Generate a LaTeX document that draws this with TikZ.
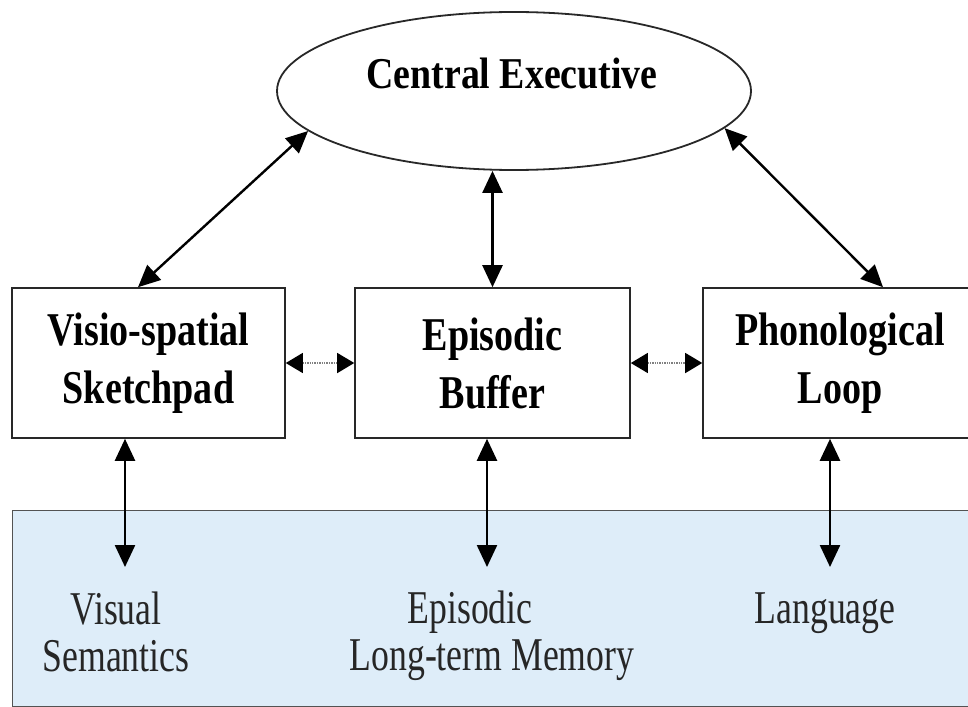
\documentclass[tikz,border=0pt]{standalone}
\usepackage{fontspec}
\setmainfont{Liberation Serif}
\newfontfamily\boxfont[FakeStretch=0.81]{Liberation Serif}
\newfontfamily\cefont[FakeStretch=0.86]{Liberation Serif}
\newfontfamily\memfont[FakeStretch=0.76]{Liberation Serif}
\usetikzlibrary{shapes.geometric,arrows.meta,positioning}
\definecolor{membg}{RGB}{222,237,249}
\definecolor{edge}{RGB}{40,40,40}
\tikzset{cmp/.style={draw=edge,fill=white,line width=1.6pt,rectangle,minimum
height=150pt,inner sep=0pt,align=center,font=\boxfont\bfseries\fontsize{47}{58}\selectfont},
lnk/.style={line width=2.4pt,{Triangle[length=22pt,width=20pt]}-{Triangle[length=22pt,width=20pt]}},
side/.style={densely dotted,draw=gray,line width=1.4pt,{Triangle[length=17pt,width=20pt,color=black]}-{Triangle[length=17pt,width=20pt,color=black]}},
ltm/.style={align=center,inner sep=0pt,text=black!85,font=\memfont\fontsize{47}{47}\selectfont}}

\begin{document}
\begin{tikzpicture}[x=1pt,y=-1pt]
		\useasboundingbox (0,0) rectangle (968,706);
		\clip (0,0) rectangle (968,706);
		\fill[white] (0,0) rectangle (968,706);
		\node[draw=edge!80,fill=membg,line width=1.4pt,minimum width=980pt,minimum height=196pt,inner sep=0pt,anchor=north west] (mem) at (12,510) {};
		\node[ellipse,draw=edge,fill=white,line width=1.8pt,minimum width=474pt,minimum height=158pt,inner sep=0pt] (ce) at (514,91) {};
		\node[inner sep=0pt,font=\cefont\bfseries\fontsize{44}{52}\selectfont] (cetext) at (512,74) {Central Executive};
		\node[cmp,minimum width=273pt] (vss) at (148.5,363) {Visio-spatial\\Sketchpad};
		\node[cmp,minimum width=275pt] (eb) at (492.5,363) {Episodic\\Buffer};
		\node[cmp,minimum width=274pt] (pl) at (840,363) {Phonological\\Loop};
		\draw[lnk] ([xshift=-10.5pt]vss.north) -- (ce.191);
		\draw[lnk] (eb.north) -- (eb.north |- ce.south);
		\draw[lnk] ([xshift=43pt]pl.north) -- (ce.350);
		\draw[side] (vss.east) -- (eb.west);
		\draw[side] (eb.east) -- (pl.west);
		\coordinate (vsend) at (125,567);
		\coordinate (ebend) at (487,567);
		\coordinate (plend) at (830,567);
		\draw[lnk] (vss.south -| vsend) -- (vsend);
		\draw[lnk] (eb.south -| ebend) -- (ebend);
		\draw[lnk] (pl.south -| plend) -- (plend);
		\node[ltm] (vsem) at (116,631.5) {Visual\\Semantics};
		\node[ltm] (eltm) at (492,635.5) {Episodic\hspace*{44pt}\\Long-term Memory};
		\node[ltm] (lang) at (825,613.5) {Language};
	\end{tikzpicture}
\end{document}
